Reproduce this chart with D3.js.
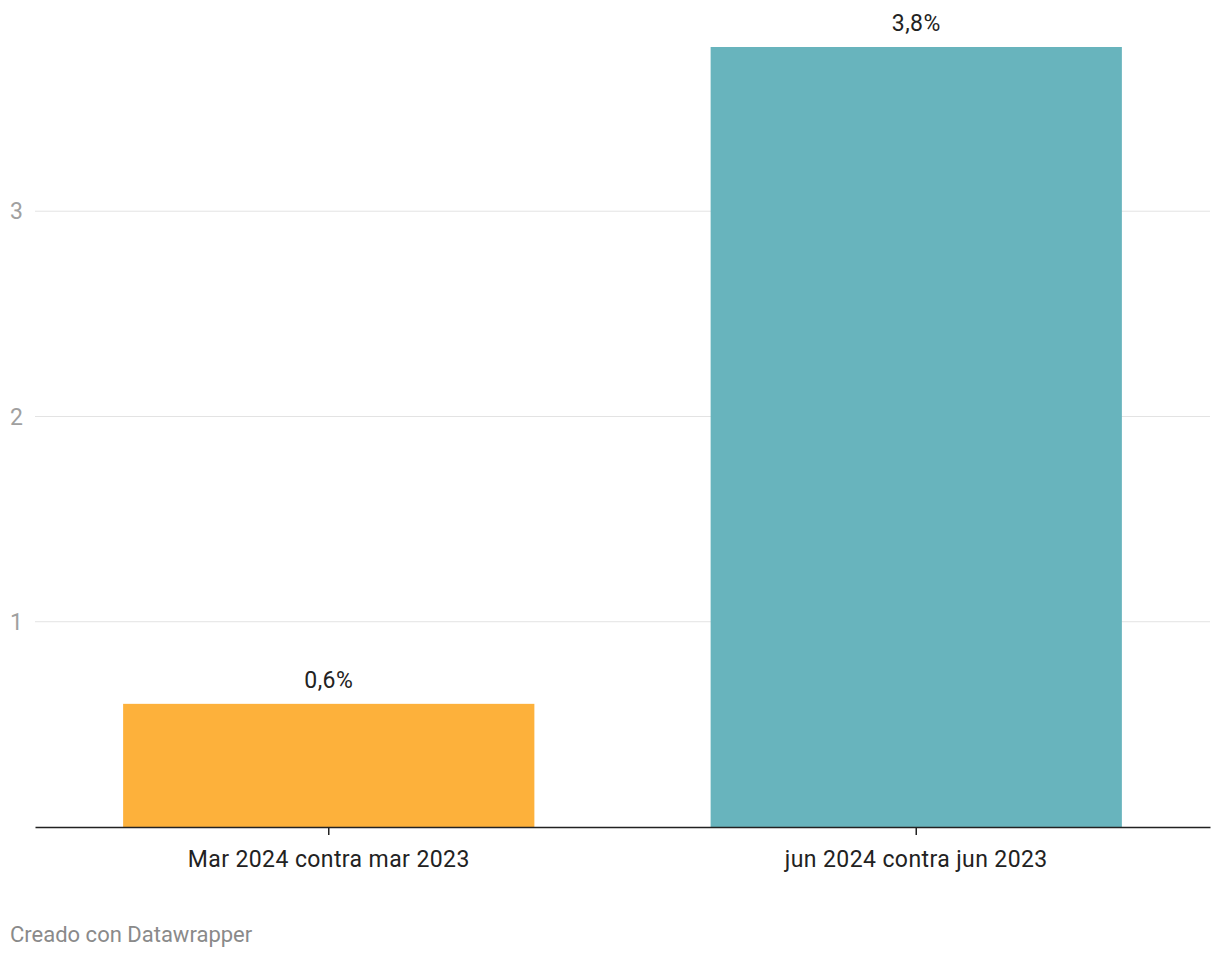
<!DOCTYPE html>
<html>
<head>
<meta charset="utf-8">
<script src="https://cdn.jsdelivr.net/npm/d3@7"></script>
<style>
  body { margin: 0; background: #fff; font-family: Roboto, "Noto Sans", sans-serif; }
</style>
</head>
<body>
<div id="chart"></div>
<script>
'use strict'

// data
const categories = ['Mar 2024 contra mar 2023', 'jun 2024 contra jun 2023']
const values = [0.6, 3.8]
const valueLabels = ['0,6%', '3,8%']
const barColors = ['#fdb13b', '#68b4bd']
const yTicks = [1, 2, 3]

const W = 1220, H = 958
const margin = {left: 35, right: 10, top: 47, bottom: 131}
const width = W - margin.left - margin.right
const height = H - margin.top - margin.bottom

const svg = d3.select('#chart').append('svg')
  .attr('width', W)
  .attr('height', H)

const g = svg.append('g')
  .attr('transform', 'translate(' + margin.left + ',' + margin.top + ')')

const x = d3.scaleBand()
  .domain(categories)
  .range([0, width])
  .paddingInner(0.3)
  .paddingOuter(0.15)

const y = d3.scaleLinear()
  .domain([0, 3.8])
  .range([height, 0])

// gridlines
g.selectAll('.grid').data(yTicks).enter()
  .append('line')
    .attr('class', 'grid')
    .attr('x1', 0)
    .attr('x2', width)
    .attr('y1', d => y(d))
    .attr('y2', d => y(d))
    .attr('stroke', '#e3e3e3')
    .attr('stroke-width', 1)

// y tick labels
g.selectAll('.ylab').data(yTicks).enter()
  .append('text')
    .attr('class', 'ylab')
    .attr('x', 10 - margin.left)
    .attr('y', d => y(d))
    .attr('dy', '0.35em')
    .attr('fill', '#a0a0a0')
    .style('font-size', '23px')
    .text(d => d)

// bars
g.selectAll('.bar').data(values).enter()
  .append('rect')
    .attr('class', 'bar')
    .attr('x', (d, i) => x(categories[i]))
    .attr('y', d => y(d))
    .attr('width', x.bandwidth())
    .attr('height', d => height - y(d))
    .attr('fill', (d, i) => barColors[i])

// value labels
g.selectAll('.vlab').data(values).enter()
  .append('text')
    .attr('class', 'vlab')
    .attr('x', (d, i) => x(categories[i]) + x.bandwidth() / 2)
    .attr('y', d => y(d) - 16)
    .attr('text-anchor', 'middle')
    .attr('fill', '#222')
    .style('font-size', '23px')
    .style('letter-spacing', '0.4px')
    .text((d, i) => valueLabels[i])

// x axis
const xAxis = g.append('g')
  .attr('transform', 'translate(0,' + height + ')')
  .call(d3.axisBottom(x).tickSize(8).tickSizeOuter(0).tickPadding(16))

xAxis.select('.domain').attr('stroke', '#222').attr('stroke-width', 1.5)
xAxis.selectAll('.tick line').attr('stroke', '#222').attr('stroke-width', 1.5)
xAxis.selectAll('.tick text')
  .attr('fill', '#222')
  .style('font-size', '23px')
  .style('letter-spacing', '0.4px')
  .style('font-family', 'Roboto, sans-serif')

// footer
svg.append('text')
  .attr('x', 10)
  .attr('y', 942)
  .attr('fill', '#8a8a8a')
  .style('font-size', '22px')
  .text('Creado con Datawrapper')
</script>
</body>
</html>
